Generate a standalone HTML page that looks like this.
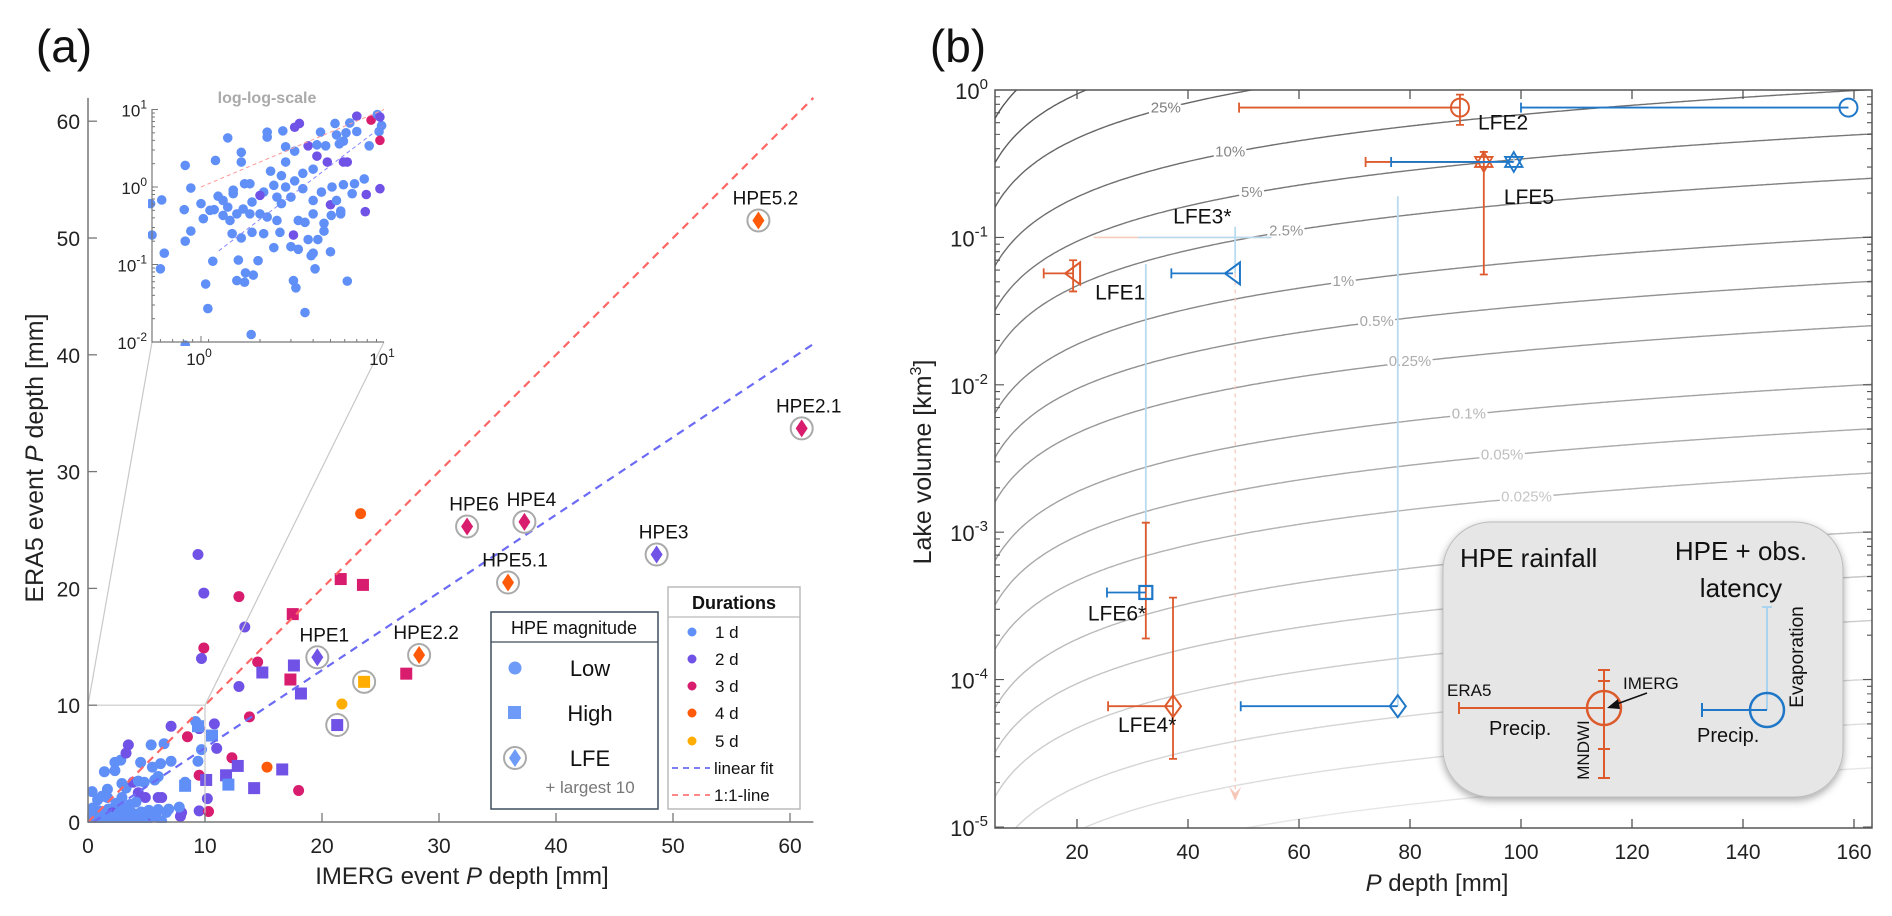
<!DOCTYPE html>
<html><head><meta charset="utf-8"><style>
html,body{margin:0;padding:0;background:#fff;width:1892px;height:916px;overflow:hidden;}
svg{display:block;font-family:"Liberation Sans",sans-serif;}
</style></head><body>
<svg id="chart" width="1892" height="916" viewBox="0 0 1892 916" xmlns="http://www.w3.org/2000/svg">
<defs>
<clipPath id="clipA"><rect x="88" y="90" width="726" height="733"/></clipPath>
<clipPath id="clipI"><rect x="148" y="105" width="240" height="241"/></clipPath>
<clipPath id="clipB"><rect x="995" y="90" width="877" height="738"/></clipPath>
<filter id="shadow" x="-5%" y="-5%" width="110%" height="112%"><feDropShadow dx="0" dy="3" stdDeviation="4" flood-color="#000" flood-opacity="0.35"/></filter>
</defs>
<text x="64" y="62" font-size="46" text-anchor="middle" fill="#111">(a)</text>
<text x="958" y="62" font-size="46" text-anchor="middle" fill="#111">(b)</text>
<g id="pa"></g>
<g id="pb"></g>
<g id="ov">
<rect x="491" y="612" width="167" height="197" fill="#fff" stroke="#3d4d5c" stroke-width="1.5"/>
<line x1="491" y1="642" x2="658" y2="642" stroke="#3d4d5c" stroke-width="1.2"/>
<text x="574" y="634" font-size="18" text-anchor="middle" fill="#111">HPE magnitude</text>
<circle cx="515" cy="668" r="6.5" fill="#6f9bf8"/>
<text x="590" y="676" font-size="22" text-anchor="middle" fill="#111">Low</text>
<rect x="508" y="706" width="13" height="13" fill="#6f9bf8"/>
<text x="590" y="721" font-size="22" text-anchor="middle" fill="#111">High</text>
<circle cx="515" cy="758" r="11" fill="#fff" stroke="#aaa" stroke-width="2"/>
<path d="M515,749 L521,758 L515,767 L509,758 Z" fill="#6f9bf8"/>
<text x="590" y="766" font-size="22" text-anchor="middle" fill="#111">LFE</text>
<text x="590" y="793" font-size="17" text-anchor="middle" fill="#777">+ largest 10</text>
<rect x="668" y="587" width="132" height="222" fill="#fff" stroke="#bbb" stroke-width="1.5"/>
<line x1="668" y1="617" x2="800" y2="617" stroke="#bbb" stroke-width="1.2"/>
<text x="734" y="609" font-size="18" font-weight="bold" text-anchor="middle" fill="#111">Durations</text>
<circle cx="692" cy="632" r="4.5" fill="#5f8ff7"/>
<text x="715" y="638" font-size="17" fill="#111">1 d</text>
<circle cx="692" cy="659" r="4.5" fill="#7152e6"/>
<text x="715" y="665" font-size="17" fill="#111">2 d</text>
<circle cx="692" cy="686" r="4.5" fill="#d81c6e"/>
<text x="715" y="692" font-size="17" fill="#111">3 d</text>
<circle cx="692" cy="713" r="4.5" fill="#ff5a0a"/>
<text x="715" y="719" font-size="17" fill="#111">4 d</text>
<circle cx="692" cy="741" r="4.5" fill="#ffad00"/>
<text x="715" y="747" font-size="17" fill="#111">5 d</text>
<line x1="672" y1="768" x2="710" y2="768" stroke="#6b6bf5" stroke-width="1.8" stroke-dasharray="6,5"/>
<text x="714" y="774" font-size="17" fill="#111">linear fit</text>
<line x1="672" y1="795" x2="710" y2="795" stroke="#f77" stroke-width="1.8" stroke-dasharray="6,5"/>
<text x="714" y="801" font-size="17" fill="#111">1:1-line</text>
</g>
<g id="leg-b">
<rect x="1443" y="522" width="400" height="275" rx="48" ry="48" fill="#e6e6e6" stroke="#bdbdbd" stroke-width="1" filter="url(#shadow)"/>
<text x="1460" y="567" font-size="26" fill="#111">HPE rainfall</text>
<text x="1741" y="560" font-size="26" text-anchor="middle" fill="#111">HPE + obs.</text>
<text x="1741" y="597" font-size="26" text-anchor="middle" fill="#111">latency</text>
<line x1="1459" y1="708" x2="1604" y2="708" stroke="#dd5a2c" stroke-width="2"/>
<line x1="1459" y1="702" x2="1459" y2="714" stroke="#dd5a2c" stroke-width="2"/>
<line x1="1604" y1="670" x2="1604" y2="778" stroke="#dd5a2c" stroke-width="2"/>
<path d="M1598,670 H1610 M1598,681 H1610 M1598,749 H1610 M1598,778 H1610" stroke="#dd5a2c" stroke-width="2"/>
<circle cx="1604" cy="708" r="17" fill="none" stroke="#dd5a2c" stroke-width="2.5"/>
<line x1="1647" y1="693" x2="1614" y2="705" stroke="#111" stroke-width="1.5"/>
<path d="M1607,708 L1618,699 L1620,709 Z" fill="#111"/>
<text x="1447" y="696" font-size="17" fill="#111">ERA5</text>
<text x="1623" y="689" font-size="17" fill="#111">IMERG</text>
<text x="1489" y="735" font-size="20" fill="#111">Precip.</text>
<text x="0" y="0" font-size="17" text-anchor="middle" fill="#111" transform="translate(1589,750) rotate(-90)">MNDWI</text>
<line x1="1767" y1="607" x2="1767" y2="710" stroke="#a9d3ee" stroke-width="2"/>
<line x1="1762" y1="607" x2="1772" y2="607" stroke="#a9d3ee" stroke-width="2"/>
<line x1="1702" y1="710" x2="1767" y2="710" stroke="#1f77c8" stroke-width="2"/>
<line x1="1702" y1="703" x2="1702" y2="717" stroke="#1f77c8" stroke-width="2"/>
<circle cx="1767" cy="710" r="17" fill="none" stroke="#1f77c8" stroke-width="2.5"/>
<text x="1697" y="742" font-size="20" fill="#111">Precip.</text>
<text x="0" y="0" font-size="19" text-anchor="middle" fill="#111" transform="translate(1803,657) rotate(-90)">Evaporation</text>
</g>
</svg>
<script>
// ---------- Panel (a) data ----------
const clusterX = [1.4,2.3,2.3,2.8,3.25,4.5,5.4,6.5,7.1,8.5,9.2,9.7,9.5,7.1,6.2,5.5,6.0,8.3,9.4,9.5,1.2,0.82,0.88,1.66,1.66,2.4,2.9,3.25,3.85,4.3,4.8,5.7,6.0,4.9,4.3,4.1,3.6,3.25,2.9,2.9,2.75,2.5,2.2,1.85,1.73,1.5,1.5,1.24,1.0,1.18,1.03,0.81,0.53,0.61,0.54,0.63,0.60,0.82,0.88,1.12,1.32,1.44,1.57,1.7,1.9,2.1,2.3,2.6,2.7,2.2,1.9,1.66,1.48,2.5,3.1,3.4,3.85,4.1,4.35,5.1,4.7,5.15,5.8,5.8,6.7,6.0,6.9,8.0,7.9,6.3,7.8,9.5,5.1,3.2,2.1,3.4,3.7,4.1,4.55,5.2,3.6,3.1,2.75,4.1,1.16,1.6,2.05,1.06,1.57,1.73,1.93,1.75,3.2,3.3,4.2,6.3,1.09,3.7,1.88,0.82,4.0,4.7,5.5,2.6,1.85,1.4,1.32,3.45,0.3,0.4,0.2,0.35,0.15];
const clusterY = [4.3,5.1,4.4,5.3,5.9,5.1,6.6,6.7,8.2,7.3,8.6,6.2,8.0,5.2,5.0,4.7,3.9,3.4,5.2,4.0,2.2,1.9,0.97,2.8,2.1,1.6,3.3,2.9,3.4,3.5,3.4,3.6,2.1,2.1,2.5,1.7,1.5,1.2,1.0,2.1,1.4,1.05,0.86,1.1,1.1,0.82,0.91,0.76,0.61,0.51,0.39,0.51,0.61,0.68,0.24,0.14,0.088,0.20,0.27,0.50,0.43,0.37,0.45,0.52,0.64,0.45,0.41,0.37,0.26,0.25,0.26,0.22,0.25,0.165,0.17,0.157,0.21,0.14,0.21,0.146,0.34,0.43,0.49,0.45,0.82,1.07,1.1,0.80,0.48,2.1,1.27,0.95,0.59,0.24,0.78,0.37,0.35,0.67,0.86,1.0,0.95,0.74,0.61,0.45,0.11,0.114,0.112,0.056,0.062,0.059,0.073,0.078,0.062,0.050,0.088,0.061,0.027,0.024,0.0125,0.0091,0.13,0.27,0.67,0.74,0.45,0.55,0.67,6.6,0.2,1.2,0.05,2.6,0.6];
const clusterDur = [1,1,1,1,2,1,1,1,2,3,1,1,2,1,1,1,1,1,1,3,1,1,1,1,1,1,1,1,2,1,1,1,2,2,2,1,1,1,1,1,1,1,1,1,1,1,1,1,1,1,1,1,1,1,1,1,1,1,1,1,1,1,1,1,1,1,1,1,1,1,1,1,1,1,1,1,1,1,1,1,1,1,1,1,1,1,1,2,2,2,1,2,2,2,2,1,1,1,1,1,1,1,1,1,1,1,1,1,1,1,1,1,1,1,1,1,1,1,1,1,1,1,1,1,1,1,1,2,1,1,1,1,1];
const bigX = [9.4,9.9,12.9,13.4,9.9,9.7,14.5,12.9,23.3,21.7,15.3,18.0,13.8,11.0,12.3,10.3,10.2,10.8,21.6,23.5,17.5,27.2,17.3,17.6,14.9,18.2,9.4,10.6,11.8,12.8,14.2,16.6,10.1,8.3,12.0];
const bigY = [22.9,19.6,19.3,16.7,14.9,14.0,13.7,11.6,26.4,10.1,4.7,2.7,9.0,6.3,5.5,0.9,2.0,8.4,20.8,20.3,17.8,12.7,12.2,13.4,12.8,11.0,8.2,7.4,4.0,4.8,2.9,4.5,3.6,3.1,3.2];
const bigDur = [2,2,3,2,3,2,3,2,4,5,4,3,3,2,3,3,2,2,3,3,3,3,3,2,2,2,1,1,2,2,2,2,2,1,1];
const bigMag = [0,0,0,0,0,0,0,0,0,0,0,0,0,0,0,0,0,0,1,1,1,1,1,1,1,1,1,1,1,1,1,1,1,1,1];
const lfeNamesA = ['HPE5.2','HPE2.1','HPE6','HPE4','HPE3','HPE5.1','HPE1','HPE2.2','',''];
const lfeX = [57.3,61.0,32.4,37.3,48.6,35.9,19.6,28.3,23.6,21.3];
const lfeY = [51.5,33.7,25.3,25.7,22.9,20.5,14.1,14.3,12.0,8.3];
const lfeDur = [4,3,3,3,2,4,2,4,5,2];
const lfeShape = ['d','d','d','d','d','d','d','d','s','s'];
const fitSlope = 0.665, fitIntercept = -0.3;
const xTicksA = [0,10,20,30,40,50,60];
const yTicksA = [0,10,20,30,40,50,60];

// ---------- Panel (b) data ----------
const lfeNamesB = ['LFE1','LFE2','LFE3*','LFE4*','LFE5','LFE6*'];
const lfeVol = [0.057,0.76,0.057,6.6e-5,0.325,3.9e-4];
const orangeP = [19.3,89,null,37.3,93.3,null];
const orangeBarP = [14,49.2,null,25.6,72,null];
const orangeErrLo = [0.043,0.58,null,2.9e-5,0.056,1.9e-4];
const orangeErrHi = [0.07,0.93,null,3.6e-4,0.38,1.16e-3];
const orangeErrP = [19.3,89,null,37.3,93.3,32.4];
const blueP = [48.1,159,48.5,77.8,98.7,32.4];
const blueBarP = [37,100,null,49.5,76.6,25.4];
const blueEvapTop = [null,null,0.118,0.19,0.38,0.066];
const lfeShapeB = ['tri','circ','none','diam','hex','sq'];
const lfe3FaintVol = 0.1, lfe3OrangeFrom = 23, lfe3BlueFrom = 31, lfe3To = 55, lfe3ArrowVol = 1.5e-5;
const contourRatio = [1,0.5,0.25,0.1,0.05,0.025,0.01,0.005,0.0025,0.001,0.0005,0.00025,1e-4,5e-5,2.5e-5,1e-5,5e-6,2.5e-6,1e-6];
const contourLabels = ['','','25%','10%','5%','2.5%','1%','0.5%','0.25%','0.1%','0.05%','0.025%','','','','','','',''];
const contourLabelP = [0,0,36,47.6,51.5,57.7,68,74,80,90.6,96.6,101,0,0,0,0,0,0,0];
const contourK = 0.171, contourExp = 0.8;
const xTicksB = [20,40,60,80,100,120,140,160];
const yDecadesB = [0,-1,-2,-3,-4,-5];

const NS='http://www.w3.org/2000/svg';
const xa=v=>88+v*11.7, ya=v=>822-v*11.68;
const xi=v=>201+Math.log10(v)*183, yi=v=>187-Math.log10(v)*77.5;
const xb=v=>1077+(v-20)*5.55, yb=v=>90-Math.log10(v)*147.4;
const durCol={1:'#5f8ff7',2:'#7152e6',3:'#d81c6e',4:'#ff5a0a',5:'#ffad00'};
const OR='#dd5a2c', BL='#1f77c8', LB='#b9dbf0';
function mk(tag,attrs,parent){const e=document.createElementNS(NS,tag);for(const k in attrs)e.setAttribute(k,attrs[k]);parent.appendChild(e);return e;}
const pa=document.getElementById('pa'), pb=document.getElementById('pb');

let el;
el=mk('g',{'clip-path':'url(#clipA)'},pa);


const gA=el;
el=mk('path',{d:`M${xa(0)},${ya(10)} H${xa(10)} V${ya(0)} M${xa(0)},${ya(10)} L152,342 M${xa(10)},${ya(10)} L384,342`,stroke:'#c8c8c8','stroke-width':1.2,fill:'none'},pa);


for(let i=0;i<clusterX.length;i++){
  el=mk('circle',{cx:xa(clusterX[i]),cy:ya(clusterY[i]),r:5.5,fill:durCol[clusterDur[i]]},gA);
  
  
}
for(let i=0;i<bigX.length;i++){
  const c=durCol[bigDur[i]];
  if(bigMag[i]===0){el=mk('circle',{cx:xa(bigX[i]),cy:ya(bigY[i]),r:5.5,fill:c},gA);}
  else{el=mk('rect',{x:xa(bigX[i])-6,y:ya(bigY[i])-6,width:12,height:12,fill:c},gA);}
  
  
}
el=mk('line',{x1:xa(0),y1:ya(0),x2:xa(62),y2:ya(62),stroke:'#f66','stroke-width':2.2,'stroke-dasharray':'8,6'},gA);


el=mk('line',{x1:xa(0.5),y1:ya(fitSlope*0.5+fitIntercept),x2:xa(62),y2:ya(fitSlope*62+fitIntercept),stroke:'#6b6bf5','stroke-width':2.2,'stroke-dasharray':'8,6'},gA);


for(let i=0;i<lfeX.length;i++){
  const cx=xa(lfeX[i]),cy=ya(lfeY[i]),c=durCol[lfeDur[i]];
  el=mk('circle',{cx:cx,cy:cy,r:11,fill:'#fff',stroke:'#aaa','stroke-width':2},pa);
  
  
  if(lfeShape[i]==='d'){el=mk('path',{d:`M${cx},${cy-9} L${cx+6},${cy} L${cx},${cy+9} L${cx-6},${cy} Z`,fill:c},pa);}
  else{el=mk('rect',{x:cx-6,y:cy-6,width:12,height:12,fill:c},pa);}
  
  
  if(lfeNamesA[i]){
    el=mk('text',{x:cx+7,y:cy-16,'font-size':19,'text-anchor':'middle',fill:'#111'},pa);
    el.textContent=lfeNamesA[i];
    
    
  }
}
el=mk('path',{d:`M${xa(0)},${ya(62)} V${ya(0)} H${xa(62)}`,stroke:'#777','stroke-width':1.5,fill:'none'},pa);


for(const t of xTicksA){
  el=mk('line',{x1:xa(t),y1:822,x2:xa(t),y2:813,stroke:'#777','stroke-width':1.3},pa);
  
  
  el=mk('text',{x:xa(t),y:853,'font-size':21,'text-anchor':'middle',fill:'#222'},pa);
  el.textContent=t;
  
  
}
for(const t of yTicksA){
  el=mk('line',{x1:88,y1:ya(t),x2:97,y2:ya(t),stroke:'#777','stroke-width':1.3},pa);
  
  
  el=mk('text',{x:80,y:ya(t)+8,'font-size':21,'text-anchor':'end',fill:'#222'},pa);
  el.textContent=t;
  
  
}
el=mk('text',{x:462,y:884,'font-size':24,'text-anchor':'middle',fill:'#222'},pa);
el.innerHTML='IMERG event  <tspan font-style="italic">P</tspan> depth [mm]';


el=mk('text',{x:0,y:0,'font-size':25,'text-anchor':'middle',fill:'#222',transform:'translate(43,458) rotate(-90)'},pa);
el.innerHTML='ERA5 event  <tspan font-style="italic">P</tspan> depth [mm]';


el=mk('rect',{x:152,y:109,width:232,height:233,fill:'#fff'},pa);


el=mk('g',{'clip-path':'url(#clipI)'},pa);


const gI=el;
for(let i=0;i<clusterX.length;i++){
  if(clusterX[i]<0.5||clusterY[i]<0.008) continue;
  el=mk('circle',{cx:xi(clusterX[i]),cy:yi(clusterY[i]),r:4.8,fill:durCol[clusterDur[i]]},gI);
  
  
}
el=mk('line',{x1:xi(1),y1:yi(1),x2:xi(10),y2:yi(10),stroke:'#f99','stroke-width':1,'stroke-dasharray':'4,3'},gI);


el=mk('line',{x1:xi(1.25),y1:yi(0.15),x2:xi(10),y2:yi(fitSlope*10+fitIntercept),stroke:'#88f','stroke-width':1,'stroke-dasharray':'4,3'},gI);


el=mk('path',{d:'M152,109 V342 H384',stroke:'#777','stroke-width':1.2,fill:'none'},pa);


const dec=[-2,-1,0,1];
for(const d of dec){
  el=mk('text',{x:147,y:yi(Math.pow(10,d))+7,'font-size':17,'text-anchor':'end',fill:'#222'},pa);
  el.innerHTML='10<tspan font-size="12" dy="-8">'+d+'</tspan>';
  
  
  for(let m=1;m<10;m++){
    const v=m*Math.pow(10,d); if(d===1&&m>1) break;
    el=mk('line',{x1:152,y1:yi(v),x2:m===1?158:155,y2:yi(v),stroke:'#777','stroke-width':1},pa);
    
    
  }
}
for(const d of [0,1]){
  el=mk('text',{x:xi(Math.pow(10,d))-2,y:365,'font-size':17,'text-anchor':'middle',fill:'#222'},pa);
  el.innerHTML='10<tspan font-size="12" dy="-8">'+d+'</tspan>';
  
  
}
for(let v=0.6;v<=10.01;v+=(v<1?0.1:1)){
  el=mk('line',{x1:xi(v),y1:342,x2:xi(v),y2:(Math.abs(v-1)<0.01||v>9.9)?336:339,stroke:'#777','stroke-width':1},pa);
  
  
}
el=mk('text',{x:267,y:103,'font-size':16,'font-weight':'bold','text-anchor':'middle',fill:'#aaa'},pa);
el.textContent='log-log-scale';



el=mk('g',{'clip-path':'url(#clipB)'},pb);


const gB=el;
const vMin=Math.pow(10,-5.02), vMax=Math.pow(10,0.02), pMin=5.2, pMax=163.4;
for(let i=0;i<contourRatio.length;i++){
  const r=contourRatio[i]; let d='';
  for(let P=pMin;P<=pMax;P+=0.4){
    const V=r*contourK*Math.pow(P,contourExp);
    if(V<vMin||V>vMax) continue;
    d+=(d?'L':'M')+xb(P).toFixed(1)+','+yb(V).toFixed(1);
  }
  if(!d) continue;
  const g=Math.round(85+i*8.5);
  el=mk('path',{d:d,fill:'none',stroke:`rgb(${g},${g},${g})`,'stroke-width':1.4},gB);
  
  
}
for(let i=0;i<contourRatio.length;i++){
  if(!contourLabels[i]) continue;
  const P=contourLabelP[i], V=contourRatio[i]*contourK*Math.pow(P,contourExp);
  const g=Math.min(200,Math.round(110+i*8));
  el=mk('text',{x:xb(P),y:yb(V)+4,'font-size':15,'text-anchor':'middle',fill:`rgb(${g},${g},${g})`,stroke:'#fff','stroke-width':5,'paint-order':'stroke'},gB);
  el.textContent=contourLabels[i];
  
  
}
el=mk('line',{x1:xb(lfe3OrangeFrom),y1:yb(lfe3FaintVol),x2:xb(lfe3To),y2:yb(lfe3FaintVol),stroke:'#f6cdbd','stroke-width':1.6},gB);


el=mk('line',{x1:xb(lfe3BlueFrom),y1:yb(lfe3FaintVol),x2:xb(lfe3To),y2:yb(lfe3FaintVol),stroke:LB,'stroke-width':1.6},gB);


el=mk('line',{x1:xb(blueP[2]),y1:yb(lfeVol[2]),x2:xb(blueP[2]),y2:yb(lfe3ArrowVol),stroke:'#f6c6b6','stroke-width':1.2,'stroke-dasharray':'4,4'},gB);


el=mk('path',{d:`M${xb(blueP[2])-6},${yb(lfe3ArrowVol)-14} L${xb(blueP[2])},${yb(lfe3ArrowVol)} L${xb(blueP[2])+6},${yb(lfe3ArrowVol)-14} L${xb(blueP[2])},${yb(lfe3ArrowVol)-8} Z`,fill:'#f6c6b6'},gB);


for(let i=0;i<lfeNamesB.length;i++){
  if(blueEvapTop[i]===null) continue;
  el=mk('line',{x1:xb(blueP[i]),y1:yb(blueEvapTop[i]),x2:xb(blueP[i]),y2:yb(lfeVol[i]),stroke:LB,'stroke-width':1.8},gB);
  
  
}
function markerB(shape,cx,cy,col){
  let e;
  if(shape==='tri') e=mk('path',{d:`M${cx-8},${cy} L${cx+7},${cy-11} L${cx+7},${cy+11} Z`,fill:'none',stroke:col,'stroke-width':2},gB);
  else if(shape==='circ') e=mk('circle',{cx:cx,cy:cy,r:9,fill:'none',stroke:col,'stroke-width':2},gB);
  else if(shape==='diam') e=mk('path',{d:`M${cx},${cy-11} L${cx+8},${cy} L${cx},${cy+11} L${cx-8},${cy} Z`,fill:'none',stroke:col,'stroke-width':2},gB);
  else if(shape==='hex') e=mk('path',{d:`M${cx},${cy-10} L${cx+8.7},${cy+5} L${cx-8.7},${cy+5} Z M${cx},${cy+10} L${cx+8.7},${cy-5} L${cx-8.7},${cy-5} Z`,fill:'none',stroke:col,'stroke-width':1.8},gB);
  else e=mk('rect',{x:cx-6.5,y:cy-6.5,width:13,height:13,fill:'none',stroke:col,'stroke-width':2.2},gB);
  return e;
}
for(let i=0;i<lfeNamesB.length;i++){
  const v=lfeVol[i];
  if(orangeErrLo[i]!==null){
    const x=xb(orangeErrP[i]);
    el=mk('path',{d:`M${x},${yb(orangeErrHi[i])} V${yb(orangeErrLo[i])} M${x-4},${yb(orangeErrHi[i])} H${x+4} M${x-4},${yb(orangeErrLo[i])} H${x+4}`,stroke:OR,'stroke-width':1.8,fill:'none'},gB);
    
    
  }
  if(orangeP[i]!==null){
    el=mk('path',{d:`M${xb(orangeBarP[i])},${yb(v)} H${xb(orangeP[i])} M${xb(orangeBarP[i])},${yb(v)-5} V${yb(v)+5}`,stroke:OR,'stroke-width':1.8,fill:'none'},gB);
    
    
    el=markerB(lfeShapeB[i],xb(orangeP[i]),yb(v),OR);
    
    
  }
  if(blueBarP[i]!==null){
    el=mk('path',{d:`M${xb(blueBarP[i])},${yb(v)} H${xb(blueP[i])} M${xb(blueBarP[i])},${yb(v)-5} V${yb(v)+5}`,stroke:BL,'stroke-width':1.8,fill:'none'},gB);
    
    
  }
  if(lfeShapeB[i]!=='none'){
    el=markerB(lfeShapeB[i],xb(blueP[i]),yb(v),BL);
    
    
  }
}
const labPos=[[19.3,0.057,22,26],[89,0.76,18,22],[48.5,0.1,-62,-14],[37.3,6.6e-5,-55,26],[93.3,0.325,20,42],[32.4,3.9e-4,-58,28]];
for(let i=0;i<lfeNamesB.length;i++){
  el=mk('text',{x:xb(labPos[i][0])+labPos[i][2],y:yb(labPos[i][1])+labPos[i][3],'font-size':21,fill:'#111'},pb);
  el.textContent=lfeNamesB[i];
  
  
}
el=mk('rect',{x:995,y:90,width:877,height:738,fill:'none',stroke:'#555','stroke-width':1.5},pb);


for(const t of xTicksB){
  el=mk('path',{d:`M${xb(t)},828 V819 M${xb(t)},90 V99`,stroke:'#555','stroke-width':1.3},pb);
  
  
  el=mk('text',{x:xb(t),y:859,'font-size':21,'text-anchor':'middle',fill:'#222'},pb);
  el.textContent=t;
  
  
}
for(const d of yDecadesB){
  const y=yb(Math.pow(10,d));
  el=mk('text',{x:988,y:y+9,'font-size':22,'text-anchor':'end',fill:'#222'},pb);
  el.innerHTML='10<tspan font-size="15" dy="-10">'+d+'</tspan>';
  
  
  for(let m=1;m<10;m++){
    if(d===0&&m>1) break;
    const yy=yb(m*Math.pow(10,d));
    const len=m===1?9:5;
    el=mk('path',{d:`M995,${yy} H${995+len} M1872,${yy} H${1872-len}`,stroke:'#555','stroke-width':1.1},pb);
    
    
  }
}
el=mk('text',{x:1437,y:891,'font-size':24,'text-anchor':'middle',fill:'#222'},pb);
el.innerHTML='<tspan font-style="italic">P</tspan> depth [mm]';


el=mk('text',{x:0,y:0,'font-size':25,'text-anchor':'middle',fill:'#222',transform:'translate(931,462) rotate(-90)'},pb);
el.innerHTML='Lake volume [km<tspan font-size="16" dy="-10">3</tspan><tspan dy="10">]</tspan>';


const svg=document.getElementById('chart');
svg.appendChild(document.getElementById('ov'));
svg.appendChild(document.getElementById('leg-b'));
</script>
</body></html>
